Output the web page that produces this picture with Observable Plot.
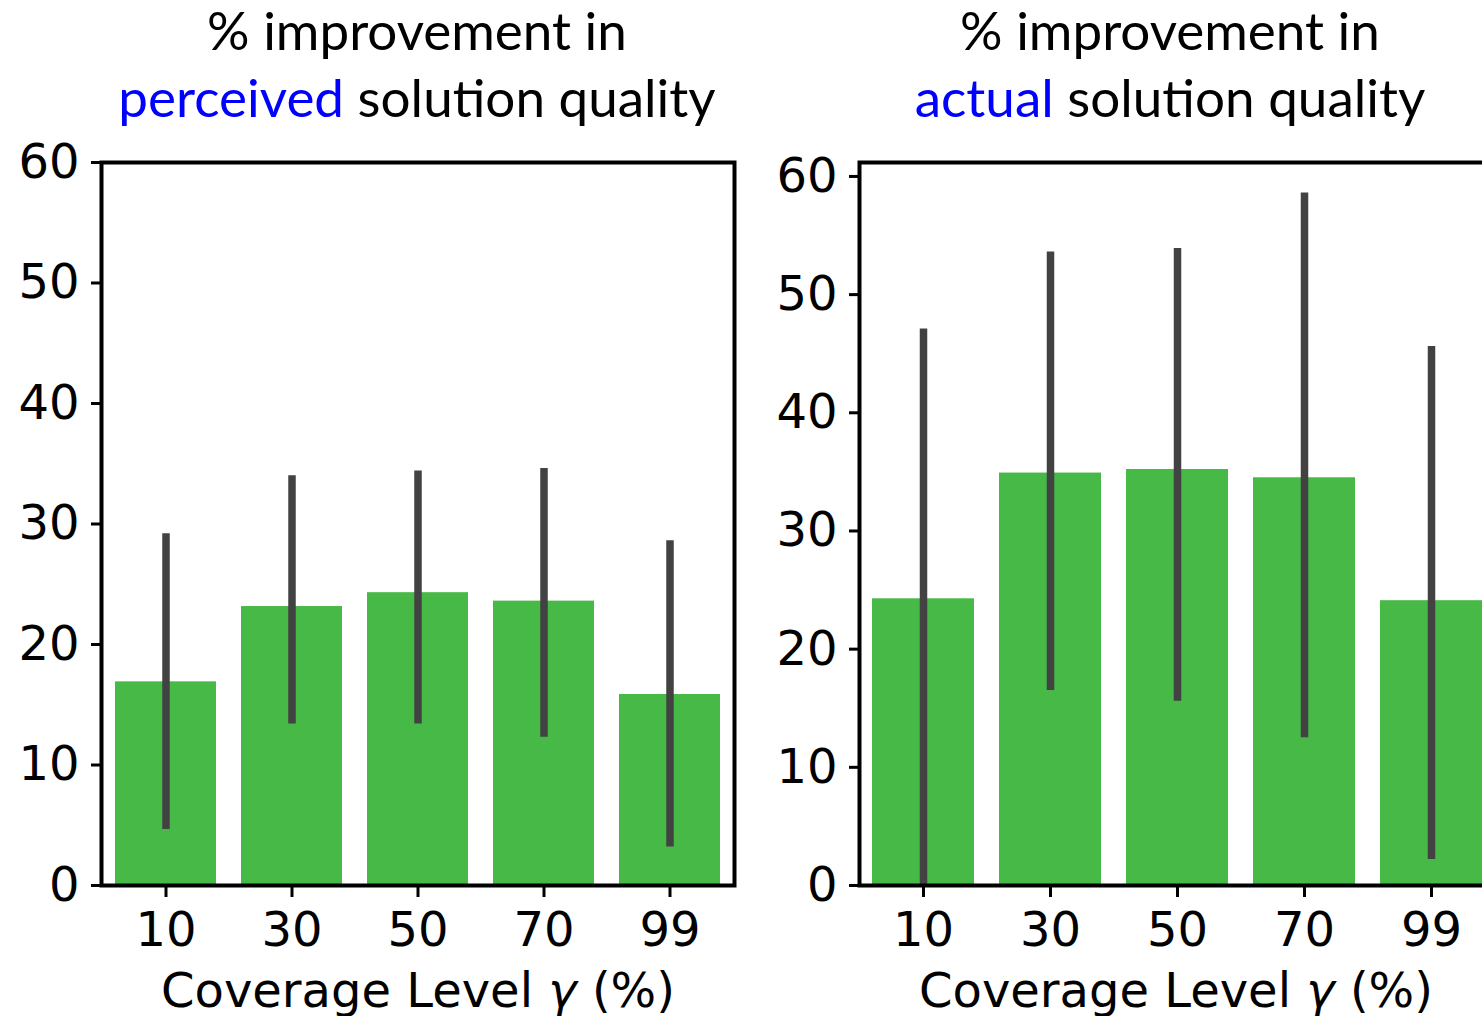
<!DOCTYPE html>
<html>
<head>
<meta charset="utf-8">
<script src="https://cdn.jsdelivr.net/npm/d3@7"></script>
<script src="https://cdn.jsdelivr.net/npm/@observablehq/plot@0.6"></script>
<style>
  html, body { margin: 0; padding: 0; background: #fff; }
  body { width: 1482px; height: 1016px; overflow: hidden; position: relative; }
  .panel { position: absolute; top: 0; height: 1016px; }
  .panel svg { max-width: none !important; }
  .title { position: absolute; white-space: nowrap; transform: translateX(-50%);
           font-family: Lato, "Open Sans", sans-serif; font-size: 53px; line-height: 67px; color: #000; text-align: center; }
  .title .hl { color: #0000ff; }
  .xlabel { position: absolute; white-space: nowrap; transform: translateX(-50%);
            font-family: "DejaVu Sans", sans-serif; font-size: 48px; line-height: 56px; color: #000; }
  .xlabel i { font-style: italic; }
</style>
</head>
<body>
<div id="left" class="panel" style="left:0px; width:750px"></div>
<div id="right" class="panel" style="left:760px; width:760px"></div>
<div class="title" style="left:417px; top:-4px">% improvement in<br><span class="hl">perceived</span> solution quality</div>
<div class="title" style="left:1170px; top:-4px">% improvement in<br><span class="hl">actual</span> solution quality</div>
<div class="xlabel" style="left:418px; top:962px">Coverage Level <i>γ</i> (%)</div>
<div class="xlabel" style="left:1176px; top:962px">Coverage Level <i>γ</i> (%)</div>
<script>
// Data
const coverage = ["10", "30", "50", "70", "99"];
const perceivedMean = [16.9, 23.15, 24.3, 23.6, 15.85];
const perceivedLow  = [4.65, 13.4, 13.4, 12.3, 3.2];
const perceivedHigh = [29.2, 34.0, 34.4, 34.6, 28.6];
const actualMean = [24.26, 34.9, 35.2, 34.5, 24.1];
const actualLow  = [0.0, 16.5, 15.6, 12.5, 2.2];
const actualHigh = [47.1, 53.6, 53.9, 58.6, 45.6];
const yTicks = [0, 10, 20, 30, 40, 50, 60];

const barColor = "#46b946";
const errColor = "#424242";

function makeRows(mean, low, high) {
  return coverage.map((c, i) => ({c, mean: mean[i], low: low[i], high: high[i]}));
}

function panel(rows, yMax, opts) {
  const svg = Plot.plot({
    width: opts.width,
    height: 1016,
    marginLeft: opts.marginLeft,
    marginRight: opts.marginRight,
    marginTop: 162,
    marginBottom: 131,
    style: {fontFamily: "DejaVu Sans, sans-serif", fontSize: "48px", color: "#000", background: "transparent", maxWidth: "none"},
    x: {domain: coverage, paddingInner: 0.2, paddingOuter: 0.1, label: null},
    y: {domain: [0, yMax], label: null},
    marks: [
      Plot.barY(rows, {x: "c", y: "mean", fill: barColor}),
      Plot.ruleX(rows, {x: "c", y1: "low", y2: "high", stroke: errColor, strokeWidth: 7.5}),
      Plot.frame({stroke: "#000", strokeWidth: 4}),
      Plot.axisY({ticks: yTicks, tickSize: 10, tickPadding: 12, tickFormat: d => String(d), strokeWidth: 3, label: null, fontSize: 48}),
      Plot.axisX({tickSize: 12, tickPadding: 14, strokeWidth: 3, label: null, fontSize: 48})
    ]
  });
  return svg;
}

document.getElementById("left").appendChild(
  panel(makeRows(perceivedMean, perceivedLow, perceivedHigh), 60, {width: 750, marginLeft: 101, marginRight: 16})
);
document.getElementById("right").appendChild(
  panel(makeRows(actualMean, actualLow, actualHigh), 61.18, {width: 760, marginLeft: 99, marginRight: 26})
);
</script>
</body>
</html>
